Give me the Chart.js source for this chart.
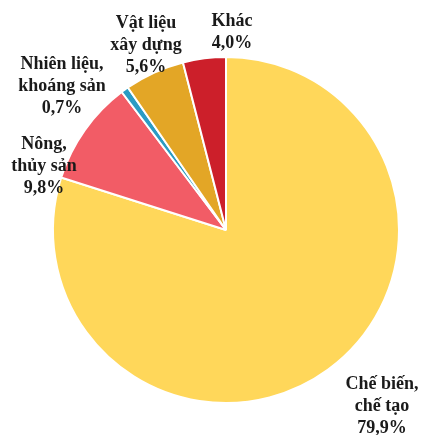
<!DOCTYPE html>
<html lang="vi">
  <head>
    <meta charset="UTF-8" />
    <title>Cơ cấu hàng xuất khẩu</title>
    <script src="https://cdn.jsdelivr.net/npm/chart.js"></script>
    <style>
      body {
        margin: 0;
        background: #ffffff;
      }
      #wrap {
        width: 426px;
        height: 435px;
      }
    </style>
  </head>
  <body>
    <div id="wrap"><canvas id="pie"></canvas></div>
    <script>
      const categories = [
        ["Chế biến,", "chế tạo"],
        ["Nông,", "thủy sản"],
        ["Nhiên liệu,", "khoáng sản"],
        ["Vật liệu", "xây dựng"],
        ["Khác"],
      ];
      const shares = [79.9, 9.8, 0.7, 5.6, 4.0];
      const sliceColors = ["#FFD75A", "#F25C66", "#2A9BC4", "#E3A626", "#CC1F2A"];

      // where each label block sits, relative to the pie centre (px)
      const labelSpots = [
        { dx: 156, dy: 176 },
        { dx: -182, dy: -64 },
        { dx: -164, dy: -144 },
        { dx: -80, dy: -185 },
        { dx: 6, dy: -198 },
      ];

      const fmt = (v) => v.toFixed(1).replace(".", ",") + "%";

      const sliceLabels = {
        id: "sliceLabels",
        afterDatasetsDraw(chart) {
          const c = chart.ctx;
          const arcs = chart.getDatasetMeta(0).data;
          c.save();
          c.font = "bold 18px 'Liberation Serif', 'Times New Roman', serif";
          c.fillStyle = "#1a1a1a";
          c.textAlign = "center";
          c.textBaseline = "middle";
          arcs.forEach((arc, i) => {
            const lines = categories[i].concat(fmt(shares[i]));
            const cx = arc.x + labelSpots[i].dx;
            const cy = arc.y + labelSpots[i].dy;
            const top = cy - ((lines.length - 1) * 22) / 2;
            lines.forEach((t, k) => c.fillText(t, cx, top + k * 22));
          });
          c.restore();
        },
      };

      new Chart(document.getElementById("pie"), {
        type: "pie",
        data: {
          labels: categories.map((l) => l.join(" ")),
          datasets: [
            {
              data: shares,
              backgroundColor: sliceColors,
              borderColor: "#ffffff",
              borderWidth: 2,
            },
          ],
        },
        options: {
          responsive: true,
          maintainAspectRatio: false,
          animation: false,
          layout: { padding: { left: 52, right: 26, top: 56, bottom: 31 } },
          plugins: {
            legend: { display: false },
            tooltip: { enabled: false },
          },
        },
        plugins: [sliceLabels],
      });
    </script>
  </body>
</html>
